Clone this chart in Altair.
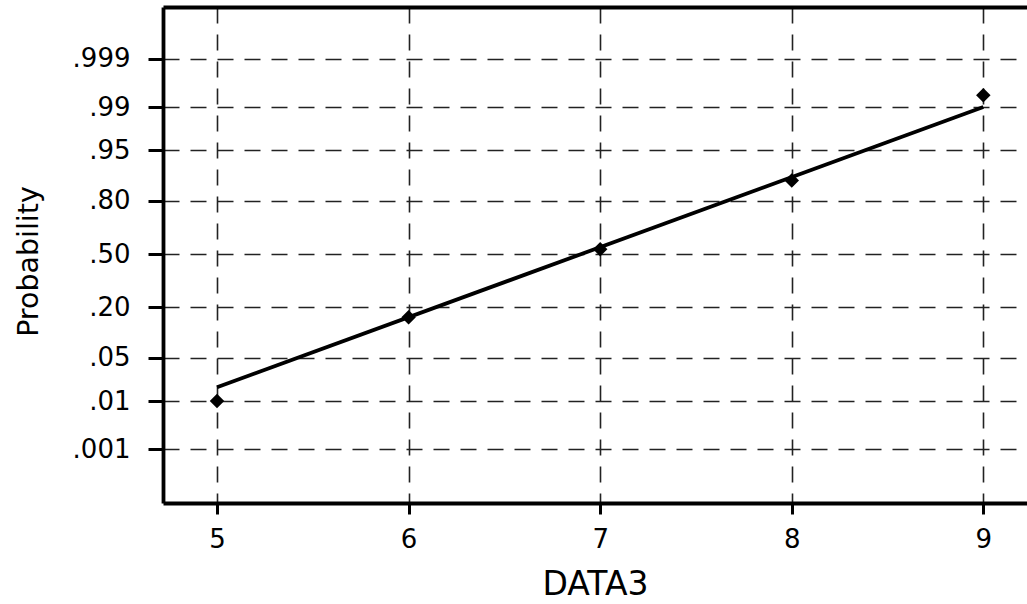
import altair as alt
import pandas as pd
from statistics import NormalDist

# Observed cumulative probabilities for DATA3
data3_values = [5, 6, 7, 8, 9]
cum_prob = [0.010, 0.159, 0.531, 0.878, 0.994]

# Fitted normal line (end points)
fit_x = [5, 9]
fit_prob = [0.0175, 0.990]

# Probability axis ticks
tick_prob = [0.001, 0.01, 0.05, 0.20, 0.50, 0.80, 0.95, 0.99, 0.999]
tick_text = [".001", ".01", ".05", ".20", ".50", ".80", ".95", ".99", ".999"]

# Normal probability paper: plot probabilities on the probit scale
probit = NormalDist().inv_cdf
pts = pd.DataFrame({"DATA3": data3_values, "z": [probit(p) for p in cum_prob]})
fit = pd.DataFrame({"DATA3": fit_x, "z": [probit(p) for p in fit_prob]})
tick_z = [probit(p) for p in tick_prob]

label_expr = ""
for z, t in zip(tick_z, tick_text):
    label_expr += f"abs(datum.value - ({z:.6f})) < 0.001 ? '{t}' : "
label_expr += "''"

FONT = "DejaVu Sans"
GRID_DASH = [16, 11]
GRID_COLOR = "#222222"

x_scale = alt.Scale(domain=[4.718, 9.228], nice=False, zero=False)
y_scale = alt.Scale(domain=[-3.94, 3.91], nice=False, zero=False)

y_axis = alt.Axis(
    values=tick_z,
    labelExpr=label_expr,
    title="Probability",
    titleFont=FONT,
    titleFontSize=28.5,
    titleFontWeight="normal",
    titleColor="black",
    titleX=-126,
    titleY=254,
    titleBaseline="alphabetic",
    labelFont=FONT,
    labelFontSize=26,
    labelColor="black",
    labelPadding=18,
    tickSize=15,
    tickWidth=3,
    tickColor="black",
    domainColor="black",
    domainWidth=3.8,
    grid=True,
    gridColor=GRID_COLOR,
    gridWidth=1.6,
    gridDash=GRID_DASH,
)

x_axis = alt.Axis(
    values=data3_values,
    format="d",
    title="DATA3",
    titleFont=FONT,
    titleFontSize=33,
    titleFontWeight="normal",
    titleColor="black",
    titleY=91,
    titleBaseline="alphabetic",
    labelFont=FONT,
    labelFontSize=26,
    labelColor="black",
    labelPadding=12,
    tickSize=11,
    tickWidth=3,
    tickColor="black",
    domainColor="black",
    domainWidth=3.8,
    grid=True,
    gridColor=GRID_COLOR,
    gridWidth=1.6,
    gridDash=GRID_DASH,
)

# Top frame edge drawn as a domain-only axis
top_axis = alt.Axis(
    orient="top",
    labels=False,
    ticks=False,
    grid=False,
    title="",
    domainColor="black",
    domainWidth=3.8,
)

y_enc = alt.Y("z:Q", scale=y_scale, axis=y_axis)

points = alt.Chart(pts).mark_point(
    shape="diamond", filled=True, size=210, color="black", opacity=1
).encode(
    x=alt.X("DATA3:Q", scale=x_scale, axis=x_axis),
    y=y_enc,
)

line = alt.Chart(fit).mark_line(color="black", strokeWidth=3.8).encode(
    x=alt.X("DATA3:Q", scale=x_scale, axis=top_axis),
    y=y_enc,
)

chart = (
    alt.layer(points, line)
    .resolve_scale(x="independent")
    .properties(
        width=864,
        height=496,
        padding={"left": 163, "top": 7, "right": 0, "bottom": 101},
        autosize=alt.AutoSizeParams(type="none"),
        background="white",
    )
    .configure_view(stroke=None)
)

chart.save("out.html", embed_options={"renderer": "svg", "actions": False})
